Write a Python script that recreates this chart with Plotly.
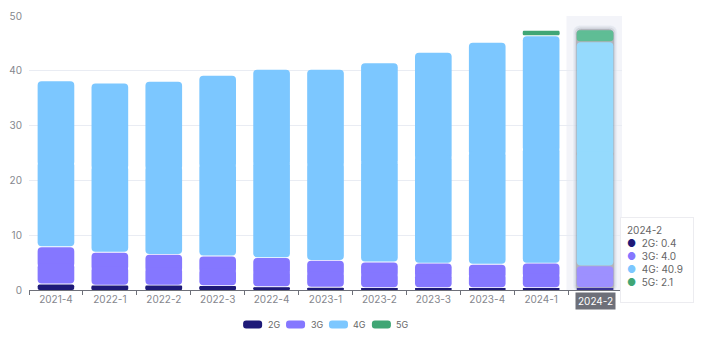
import plotly.graph_objects as go

# Quarterly mobile subscriptions by network generation
quarters = ["2021-4", "2022-1", "2022-2", "2022-3", "2022-4", "2023-1",
            "2023-2", "2023-3", "2023-4", "2024-1", "2024-2"]
g2 = [1.1, 0.9, 0.9, 0.8, 0.6, 0.5, 0.4, 0.4, 0.4, 0.4, 0.4]
g3 = [6.8, 6.0, 5.6, 5.4, 5.3, 4.9, 4.7, 4.5, 4.3, 4.5, 4.0]
g4 = [30.2, 30.8, 31.5, 32.9, 34.3, 34.8, 36.3, 38.4, 40.4, 41.5, 40.9]
g5 = [None, None, None, None, None, None, None, None, None, 0.9, 2.1]

series_names = ["2G", "3G", "4G", "5G"]
series_vals = [g2, g3, g4, g5]
colors = ["#1e1a78", "#8577ff", "#7cc7ff", "#40a675"]
hover_colors = ["#3a3494", "#9d90ff", "#95dafd", "#5fbd95"]

active = len(quarters) - 1          # highlighted category
BAR_W = 0.68
GAP = 0.16                          # gap between stacked segments (data units)
RADIUS = 4
FONT = "Inter, Lato, sans-serif"

# plot-area geometry in pixels (for paper-coordinate helpers)
L, R, T, B = 28.5, 622.5, 9, 290
def px_x(p):
    return (p - L) / (R - L)
def px_y(p):
    return (B - p) / (B - T)

fig = go.Figure()

totals = [sum(v[i] or 0 for v in series_vals) for i in range(len(quarters))]

# soft shadow around the highlighted stack
for dw, dh, op in [(0.12, 0.8, 0.07), (0.08, 0.55, 0.12), (0.045, 0.3, 0.2)]:
    fig.add_trace(go.Bar(
        x=[quarters[active]], y=[totals[active] + dh + 0.3], base=[-0.3],
        width=BAR_W + dw, marker=dict(color=f"rgba(60,60,70,{op})", cornerradius=RADIUS + 2),
        hoverinfo="skip", showlegend=False))

# each stacked segment drawn as two overlapping halves so both ends get rounded corners
cum = [0.0] * len(quarters)
for si, (name, vals) in enumerate(zip(series_names, series_vals)):
    up_base, up_h, dn_base, dn_h, cols = [], [], [], [], []
    for i, v in enumerate(vals):
        if not v:
            up_base.append(None); up_h.append(None)
            dn_base.append(None); dn_h.append(None)
            cols.append(colors[si])
            continue
        b = cum[i]
        t = b + v
        is_top = all(not series_vals[j][i] for j in range(si + 1, len(series_vals)))
        lo = b + (GAP / 2 if b > 0 else 0)
        hi = t - (0 if is_top else GAP / 2)
        m = (lo + hi) / 2
        ov = min(0.4, (hi - lo) / 4)
        up_base.append(m - ov); up_h.append(hi - (m - ov))
        dn_base.append(m + ov); dn_h.append(lo - (m + ov))
        cols.append(hover_colors[si] if i == active else colors[si])
        cum[i] = t
    for base, part in ((up_base, up_h), (dn_base, dn_h)):
        fig.add_trace(go.Bar(
            x=quarters, y=part, base=base, width=BAR_W, name=name,
            marker=dict(color=cols, cornerradius=RADIUS, line=dict(width=0)),
            hoverinfo="skip", showlegend=False))

# axis-pointer band behind the highlighted category
fig.add_shape(type="rect", xref="x", yref="paper", x0=active - 0.53, x1=active + 0.53,
              y0=0, y1=1, fillcolor="#f3f4f9", line=dict(width=0), layer="below")

# highlighted axis label
fig.add_annotation(x=quarters[active], xref="x", y=0, yref="paper", yanchor="top",
                   yshift=-2, text=quarters[active], showarrow=False,
                   font=dict(family=FONT, size=10, color="#ffffff"),
                   bgcolor="#6e7079", borderpad=2)

# tooltip for the highlighted category
lines = [f"<span style='color:#666666'>{quarters[active]}</span>"]
for name, vals, c in zip(series_names, series_vals, colors):
    lines.append(f"<span style='color:{c}'>●</span>  {name}: {vals[active]:.1f}")
fig.add_annotation(xref="paper", yref="paper", x=px_x(620), y=px_y(215),
                   xanchor="left", yanchor="top", align="left", valign="top",
                   text="<br>".join(lines), showarrow=False, width=60, height=72,
                   font=dict(family=FONT, size=10, color="#666666"),
                   bgcolor="#ffffff", bordercolor="#ececf0", borderwidth=1, borderpad=6)

# legend: rounded swatches with labels
def rounded_rect(w, h, r):
    x0, x1, y0, y1 = -w / 2, w / 2, -h / 2, h / 2
    return (f"M {x0+r},{y0} L {x1-r},{y0} Q {x1},{y0} {x1},{y0+r} "
            f"L {x1},{y1-r} Q {x1},{y1} {x1-r},{y1} L {x0+r},{y1} "
            f"Q {x0},{y1} {x0},{y1-r} L {x0},{y0+r} Q {x0},{y0} {x0+r},{y0} Z")

leg_x0, leg_step, leg_y = 252.5, 43, 325.5
for k, (name, c) in enumerate(zip(series_names, colors)):
    cx = leg_x0 + k * leg_step
    fig.add_shape(type="path", xref="paper", yref="paper", xsizemode="pixel",
                  ysizemode="pixel", xanchor=px_x(cx), yanchor=px_y(leg_y),
                  path=rounded_rect(19, 8, 3), fillcolor=c, line=dict(width=0))
    fig.add_annotation(xref="paper", yref="paper", x=px_x(cx + 13), y=px_y(leg_y),
                       xanchor="left", yanchor="middle", text=name, showarrow=False,
                       font=dict(family=FONT, size=9, color="#666666"))

ticktext = [q if i != active else "" for i, q in enumerate(quarters)]

fig.update_layout(
    width=720, height=340,
    margin=dict(l=L, r=720 - R, t=T, b=340 - B),
    barmode="overlay",
    plot_bgcolor="#ffffff", paper_bgcolor="#ffffff",
    showlegend=False,
    font=dict(family=FONT, size=10, color="#7a7c84"),
    xaxis=dict(type="category", categoryorder="array", categoryarray=quarters,
               tickvals=quarters, ticktext=ticktext, tickson="boundaries",
               ticks="outside", ticklen=4, tickcolor="#6e7079",
               showline=True, linecolor="#6e7079", linewidth=1,
               showgrid=False, range=[-0.5, len(quarters) - 0.5],
               tickfont=dict(size=10, color="#85878e")),
    yaxis=dict(range=[0, 50], dtick=10, showgrid=True, gridcolor="#e9ecf3",
               gridwidth=1, zeroline=False, showline=False, ticks="",
               ticklabelstandoff=6,
               tickfont=dict(size=10, color="#85878e")),
)

fig.write_html("out.html")
